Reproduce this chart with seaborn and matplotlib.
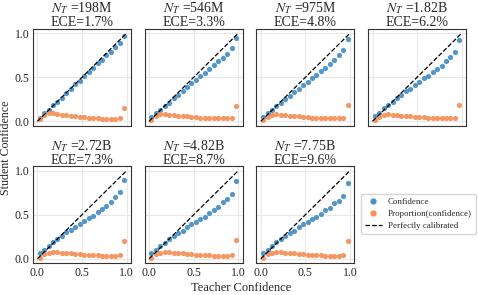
import numpy as np
import pandas as pd
import matplotlib
matplotlib.use("Agg")
import matplotlib.pyplot as plt
import seaborn as sns
from matplotlib.lines import Line2D

sns.set_style("whitegrid")
plt.rcParams['font.family'] = ['Liberation Serif', 'DejaVu Serif']
plt.rcParams['mathtext.fontset'] = 'stix'
plt.rcParams['axes.edgecolor'] = '#333333'
plt.rcParams['grid.color'] = '#e8e8e8'

# bin centres of teacher confidence
bins = [0.025, 0.075, 0.125, 0.175, 0.225, 0.275, 0.325, 0.375, 0.425, 0.475,
        0.525, 0.575, 0.625, 0.675, 0.725, 0.775, 0.825, 0.875, 0.925, 0.975]

sizes = ["198M", "546M", "975M", "1.82B", "2.72B", "4.82B", "7.75B"]
eces = ["1.7%", "3.3%", "4.8%", "6.2%", "7.3%", "8.7%", "9.6%"]

conf_198m = [0.04, 0.09, 0.13, 0.18, 0.22, 0.27, 0.32, 0.37, 0.42, 0.46,
             0.51, 0.56, 0.61, 0.66, 0.70, 0.75, 0.79, 0.84, 0.89, 0.97]
conf_546m = [0.05, 0.09, 0.13, 0.17, 0.21, 0.26, 0.30, 0.34, 0.39, 0.43,
             0.47, 0.51, 0.55, 0.59, 0.64, 0.68, 0.72, 0.77, 0.83, 0.95]
conf_975m = [0.05, 0.09, 0.13, 0.17, 0.21, 0.25, 0.29, 0.33, 0.37, 0.41,
             0.45, 0.49, 0.53, 0.57, 0.61, 0.65, 0.70, 0.75, 0.81, 0.93]
conf_182b = [0.06, 0.10, 0.15, 0.19, 0.22, 0.26, 0.30, 0.34, 0.37, 0.41,
             0.45, 0.49, 0.52, 0.56, 0.60, 0.63, 0.68, 0.73, 0.79, 0.92]
conf_272b = [0.06, 0.10, 0.15, 0.19, 0.23, 0.26, 0.30, 0.33, 0.36, 0.40,
             0.43, 0.46, 0.49, 0.53, 0.56, 0.60, 0.64, 0.70, 0.76, 0.90]
conf_482b = [0.06, 0.10, 0.15, 0.18, 0.22, 0.26, 0.29, 0.32, 0.36, 0.39,
             0.42, 0.45, 0.48, 0.52, 0.55, 0.59, 0.64, 0.68, 0.74, 0.88]
conf_775b = [0.06, 0.10, 0.15, 0.19, 0.22, 0.26, 0.29, 0.32, 0.36, 0.39,
             0.42, 0.45, 0.48, 0.51, 0.55, 0.58, 0.63, 0.66, 0.71, 0.86]

prop_198m = [0.03, 0.07, 0.09, 0.09, 0.08, 0.075, 0.07, 0.06, 0.055, 0.05,
             0.045, 0.04, 0.035, 0.035, 0.03, 0.03, 0.03, 0.03, 0.035, 0.15]
prop_546m = [0.02, 0.06, 0.08, 0.08, 0.075, 0.07, 0.065, 0.06, 0.055, 0.05,
             0.045, 0.04, 0.04, 0.035, 0.035, 0.035, 0.035, 0.035, 0.04, 0.17]
prop_975m = [0.02, 0.05, 0.075, 0.08, 0.075, 0.07, 0.065, 0.06, 0.055, 0.05,
             0.045, 0.04, 0.04, 0.035, 0.035, 0.035, 0.035, 0.035, 0.04, 0.19]
prop_182b = [0.01, 0.05, 0.07, 0.08, 0.075, 0.07, 0.065, 0.06, 0.055, 0.05,
             0.045, 0.045, 0.04, 0.04, 0.035, 0.035, 0.035, 0.035, 0.04, 0.19]
prop_272b = [0.01, 0.05, 0.07, 0.075, 0.075, 0.07, 0.065, 0.06, 0.055, 0.05,
             0.045, 0.045, 0.04, 0.04, 0.035, 0.035, 0.035, 0.035, 0.04, 0.20]
prop_482b = [0.01, 0.05, 0.07, 0.075, 0.075, 0.07, 0.065, 0.06, 0.055, 0.05,
             0.045, 0.045, 0.04, 0.04, 0.035, 0.035, 0.035, 0.035, 0.04, 0.21]
prop_775b = [0.01, 0.05, 0.07, 0.075, 0.075, 0.07, 0.065, 0.06, 0.055, 0.05,
             0.045, 0.045, 0.04, 0.04, 0.035, 0.035, 0.035, 0.035, 0.04, 0.20]

confs = [conf_198m, conf_546m, conf_975m, conf_182b, conf_272b, conf_482b, conf_775b]
props = [prop_198m, prop_546m, prop_975m, prop_182b, prop_272b, prop_482b, prop_775b]

blue = "#4a90c8"
orange = "#f5925a"

fig, axs = plt.subplots(2, 4, figsize=(4.78, 2.95), dpi=100, sharex=True, sharey=True)
fig.subplots_adjust(left=0.069, right=0.975, top=0.902, bottom=0.108,
                    wspace=0.14, hspace=0.42)

for i, ax in enumerate(axs.flat[:7]):
    df = pd.DataFrame({"teacher": bins, "conf": confs[i], "prop": props[i]})
    sns.scatterplot(data=df, x="teacher", y="conf", ax=ax, color=blue,
                    s=14, linewidth=0, alpha=0.95)
    sns.scatterplot(data=df, x="teacher", y="prop", ax=ax, color=orange,
                    s=14, linewidth=0, alpha=0.95)
    ax.plot([0, 1], [0, 1], linestyle="--", color="black", linewidth=0.9)
    ax.set_title("$N_T$ =" + sizes[i] + "\nECE=" + eces[i], fontsize=10,
                 pad=2, linespacing=0.95)
    ax.set_xlabel("")
    ax.set_ylabel("")
    ax.set_xlim(-0.05, 1.05)
    ax.set_ylim(-0.05, 1.05)
    ax.set_xticks([0, 0.5, 1.0])
    ax.set_yticks([0, 0.5, 1.0])
    ax.tick_params(labelsize=8.5, length=1.5, pad=1.2)
    for sp in ax.spines.values():
        sp.set_linewidth(0.8)

for ax in axs[0, :]:
    ax.tick_params(labelbottom=False)

axs[1, 3].axis("off")
handles = [
    Line2D([], [], marker="o", linestyle="", color=blue, markersize=3.5),
    Line2D([], [], marker="o", linestyle="", color=orange, markersize=3.5),
    Line2D([], [], linestyle="--", color="black", linewidth=0.9),
]
labels = ["Confidence", "Proportion(confidence)", "Perfectly calibrated"]
fig.legend(handles, labels, loc="center left", bbox_to_anchor=(0.755, 0.275),
           fontsize=6.4, frameon=True, handlelength=1.9, handletextpad=0.7,
           borderpad=0.45, borderaxespad=0, labelspacing=0.45,
           edgecolor="#cccccc", fancybox=True)

fig.text(0.505, 0.012, "Teacher Confidence", ha="center", fontsize=9)
fig.text(0.0, 0.5, "Student Confidence", va="center", rotation=90, fontsize=8.6)

plt.savefig("out.png", dpi=100)
